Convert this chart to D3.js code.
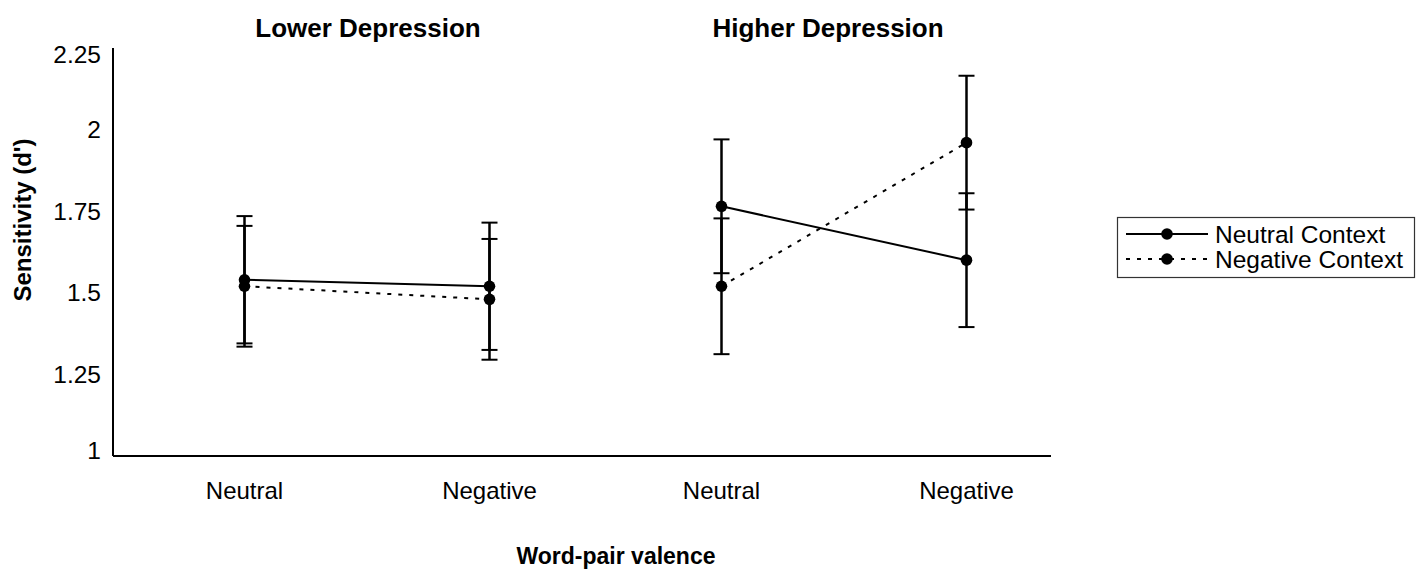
<!DOCTYPE html>
<html>
<head>
<meta charset="utf-8">
<script src="https://cdn.jsdelivr.net/npm/d3@7"></script>
<style>
  body { margin: 0; background: #fff; }
  text { font-family: "Liberation Sans", Arial, Helvetica, sans-serif; fill: #000; }
</style>
</head>
<body>
<svg id="chart" width="1424" height="570"></svg>
<script>
// ---- data ----
const groups = ["Lower Depression", "Higher Depression"];
const valences = ["Neutral", "Negative"];
const seriesNames = ["Neutral Context", "Negative Context"];
// means ordered: [group][valence] flattened -> LD-Neutral, LD-Negative, HD-Neutral, HD-Negative
const neutralContext = [1.54, 1.52, 1.765, 1.60];
const neutralContextErr = [0.195, 0.195, 0.205, 0.205];
const negativeContext = [1.52, 1.48, 1.52, 1.96];
const negativeContextErr = [0.185, 0.185, 0.208, 0.205];
const yTicks = [1, 1.25, 1.5, 1.75, 2, 2.25];
const yTickLabels = ["1", "1.25", "1.5", "1.75", "2", "2.25"];
const xTitle = "Word-pair valence";
const yTitle = "Sensitivity (d')";

// ---- layout ----
const plot = { left: 113, right: 1051, top: 48, bottom: 456 };

const svg = d3.select("#chart");

const y = d3.scaleLinear().domain([1, 2.25]).range([plot.bottom, plot.top]);
const gx = d3.scalePoint().domain(groups).range([367, 844]);
const vx = d3.scalePoint().domain(valences).range([-122.5, 122.5]);
const xPos = (gi, vi) => gx(groups[gi]) + vx(valences[vi]);

const series = [
  { name: seriesNames[0], mean: neutralContext, err: neutralContextErr, dash: null },
  { name: seriesNames[1], mean: negativeContext, err: negativeContextErr, dash: "4,7" }
].map(s => ({
  ...s,
  points: groups.flatMap((g, gi) => valences.map((v, vi) => ({
    gi, vi, value: s.mean[gi * valences.length + vi], err: s.err[gi * valences.length + vi]
  })))
}));

function label(sel, x, yv, txt, opts = {}) {
  const size = opts.size || 24;
  const anchor = opts.anchor || "middle";
  const rot = opts.rotate || 0;
  return sel.append("text")
    .attr("transform", `translate(${x},${yv}) rotate(${rot})`)
    .attr("text-anchor", anchor)
    .attr("dominant-baseline", opts.baseline || "alphabetic")
    .attr("font-size", size)
    .attr("font-weight", opts.bold ? "bold" : "normal")
    .text(txt);
}

// ---- axes ----
const axes = svg.append("g");
axes.append("line")
  .attr("x1", plot.left).attr("x2", plot.left)
  .attr("y1", y(2.25)).attr("y2", y(1))
  .attr("stroke", "#000").attr("stroke-width", 2);
axes.append("line")
  .attr("x1", plot.left).attr("x2", plot.right)
  .attr("y1", y(1)).attr("y2", y(1))
  .attr("stroke", "#000").attr("stroke-width", 2);

yTicks.forEach((t, i) => {
  const ty = Math.max(plot.top + 6, Math.min(plot.bottom - 6, y(t)));
  label(axes, plot.left - 12, ty, yTickLabels[i], { anchor: "end", baseline: "central", size: 24.5 });
});

groups.forEach((g, gi) => {
  valences.forEach((v, vi) => {
    label(axes, xPos(gi, vi), 499, v, { size: 24 });
  });
});

label(axes, 368, 37, groups[0], { bold: true, size: 26 });
label(axes, 828, 37, groups[1], { bold: true, size: 26 });

label(axes, 616, 564, xTitle, { bold: true, size: 23 });
label(axes, 31, 220, yTitle, { bold: true, size: 24, rotate: -90 });

// ---- error bars ----
const eb = svg.append("g").attr("stroke", "#000").attr("stroke-width", 2.5);
series.forEach(s => {
  s.points.forEach(p => {
    const cx = xPos(p.gi, p.vi);
    eb.append("line").attr("x1", cx).attr("x2", cx)
      .attr("y1", y(p.value + p.err)).attr("y2", y(p.value - p.err));
    [p.value + p.err, p.value - p.err].forEach(e => {
      eb.append("line").attr("x1", cx - 8).attr("x2", cx + 8)
        .attr("y1", y(e)).attr("y2", y(e)).attr("stroke-width", 2);
    });
  });
});

// ---- lines & markers ----
const lineGen = d3.line().x(p => xPos(p.gi, p.vi)).y(p => y(p.value));
series.forEach(s => {
  groups.forEach((g, gi) => {
    const pts = s.points.filter(p => p.gi === gi);
    svg.append("path")
      .attr("d", lineGen(pts))
      .attr("fill", "none")
      .attr("stroke", "#000")
      .attr("stroke-width", 2)
      .attr("stroke-dasharray", s.dash);
  });
  svg.append("g").selectAll("circle").data(s.points).join("circle")
    .attr("cx", p => xPos(p.gi, p.vi))
    .attr("cy", p => y(p.value))
    .attr("r", 5.8)
    .attr("fill", "#000");
});

// ---- legend ----
const lg = svg.append("g");
lg.append("rect")
  .attr("x", 1117.5).attr("y", 217.5).attr("width", 297).attr("height", 60)
  .attr("fill", "#fff").attr("stroke", "#333").attr("stroke-width", 1.2);
series.forEach((s, i) => {
  const ly = 234 + i * 25;
  lg.append("line")
    .attr("x1", 1126).attr("x2", 1208).attr("y1", ly).attr("y2", ly)
    .attr("stroke", "#000").attr("stroke-width", 2)
    .attr("stroke-dasharray", s.dash);
  lg.append("circle").attr("cx", 1167).attr("cy", ly).attr("r", 5.8).attr("fill", "#000");
  label(lg, 1215, ly, s.name, { anchor: "start", baseline: "central", size: 24.5 });
});
</script>
</body>
</html>
